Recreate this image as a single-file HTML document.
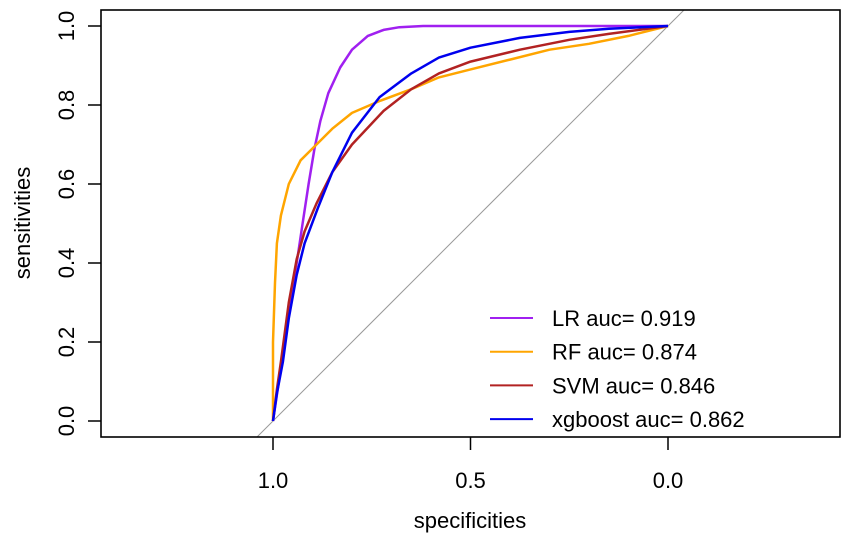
<!DOCTYPE html>
<html><head><meta charset="utf-8"><style>
body{margin:0;background:#fff}
svg{display:block;font-family:"Liberation Sans",Arial,sans-serif}
</style></head><body>
<svg id="chart" width="851" height="542">
<rect x="0" y="0" width="851" height="542" fill="#fff"/>
<g id="axes"></g><g id="curves"></g><g id="legend"></g>
</svg>
<script>
const xTicks=[1.0,0.5,0.0];
const xTickLabels=["1.0","0.5","0.0"];
const yTicks=[0,0.2,0.4,0.6,0.8,1.0];
const yTickLabels=["0.0","0.2","0.4","0.6","0.8","1.0"];
const seriesNames=["LR auc= 0.919","RF auc= 0.874","SVM auc= 0.846","xgboost auc= 0.862"];
const seriesColors=["#a020f0","#ffa500","#b22222","#0000ee"];
const lrSpec=[1,0.985,0.97,0.955,0.94,0.925,0.91,0.895,0.88,0.86,0.83,0.8,0.76,0.72,0.68,0.62,0];
const lrSens=[0,0.1,0.2,0.3,0.4,0.5,0.6,0.69,0.76,0.83,0.895,0.94,0.975,0.99,0.997,1,1];
const rfSpec=[1,1,0.995,0.99,0.98,0.96,0.93,0.9,0.85,0.8,0.73,0.65,0.58,0.5,0.4,0.3,0.2,0.1,0];
const rfSens=[0,0.2,0.35,0.45,0.52,0.6,0.66,0.69,0.74,0.78,0.81,0.84,0.87,0.89,0.915,0.94,0.955,0.975,1];
const svmSpec=[1,0.99,0.98,0.96,0.94,0.92,0.89,0.85,0.8,0.72,0.65,0.58,0.5,0.375,0.25,0.15,0];
const svmSens=[0,0.08,0.15,0.3,0.41,0.48,0.55,0.63,0.7,0.785,0.84,0.88,0.91,0.94,0.965,0.98,1];
const xgbSpec=[1,0.99,0.975,0.96,0.94,0.92,0.886,0.85,0.8,0.73,0.65,0.58,0.5,0.375,0.25,0.15,0];
const xgbSens=[0,0.07,0.15,0.26,0.37,0.45,0.54,0.63,0.73,0.82,0.88,0.92,0.945,0.97,0.985,0.993,1];

const NS="http://www.w3.org/2000/svg";
const X0=273,XU=395,Y0=421,YU=395;
const L=101,R=840,T=10,B=437;
function sx(v){return X0+(1-v)*XU;}
function sy(v){return Y0-v*YU;}
function mk(parent,tag,attrs,text){const e=document.createElementNS(NS,tag);for(const k in attrs)e.setAttribute(k,attrs[k]);if(text!==undefined)e.textContent=text;parent.appendChild(e);return e;}
const axes=document.getElementById('axes');
const d=mk(axes,'line',{x1:X0-(B-Y0)*XU/YU,y1:B,x2:X0+(Y0-T)*XU/YU,y2:T,stroke:'#999','stroke-width':1});


const box=mk(axes,'rect',{x:L,y:T,width:R-L,height:B-T,fill:'none',stroke:'#000','stroke-width':1.6});


xTicks.forEach((v,i)=>{
  const t=mk(axes,'line',{x1:sx(v),x2:sx(v),y1:B,y2:B+13,stroke:'#000','stroke-width':1.5});
  
  
  const tx=mk(axes,'text',{x:sx(v),y:488,'font-size':22,'text-anchor':'middle'},xTickLabels[i]);
  
  
});
yTicks.forEach((v,i)=>{
  const t=mk(axes,'line',{x1:L-13,x2:L,y1:sy(v),y2:sy(v),stroke:'#000','stroke-width':1.5});
  
  
  const tx=mk(axes,'text',{x:0,y:0,'font-size':22,'text-anchor':'middle',transform:`translate(74,${sy(v)}) rotate(-90)`},yTickLabels[i]);
  
  
});
const xt=mk(axes,'text',{x:470,y:528,'font-size':22,'text-anchor':'middle'},'specificities');


const yt=mk(axes,'text',{x:0,y:0,'font-size':22,'text-anchor':'middle',transform:'translate(30,223) rotate(-90)'},'sensitivities');



const curves=document.getElementById('curves');
const specs=[lrSpec,rfSpec,svmSpec,xgbSpec],senss=[lrSens,rfSens,svmSens,xgbSens];
const ids=['lr','rf','svm','xgboost'];
specs.forEach((sp,k)=>{
  const pts=sp.map((v,i)=>sx(v).toFixed(1)+','+sy(senss[k][i]).toFixed(1)).join(' ');
  const p=mk(curves,'polyline',{points:pts,fill:'none',stroke:seriesColors[k],'stroke-width':2.5,'stroke-linejoin':'round'});
  
  
});
const leg=document.getElementById('legend');
seriesNames.forEach((n,k)=>{
  const y=318+k*33.7;
  const l=mk(leg,'line',{x1:490,x2:533,y1:y,y2:y,stroke:seriesColors[k],'stroke-width':2});
  
  
  const t=mk(leg,'text',{x:552,y:y+8,'font-size':22},n);
  
  
});
</script>
</body></html>
